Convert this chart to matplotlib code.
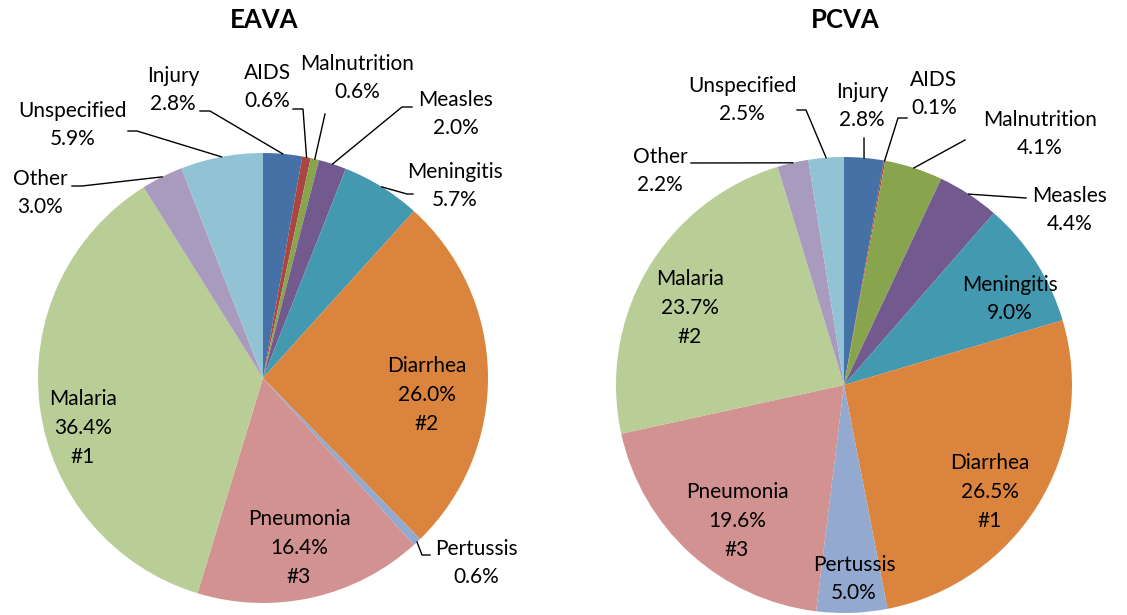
import numpy as np
import matplotlib
matplotlib.use('Agg')
import matplotlib.pyplot as plt

plt.rcParams['font.family'] = ['Lato', 'DejaVu Sans']

W, H = 1127, 615

# data (clockwise from 12 o'clock)
causes = ['Injury', 'AIDS', 'Malnutrition', 'Measles', 'Meningitis', 'Diarrhea',
          'Pertussis', 'Pneumonia', 'Malaria', 'Other', 'Unspecified']
eava = [2.8, 0.6, 0.6, 2.0, 5.7, 26.0, 0.6, 16.4, 36.4, 3.0, 5.9]
pcva = [2.8, 0.1, 4.1, 4.4, 9.0, 26.5, 5.0, 19.6, 23.7, 2.2, 2.5]
eava_rank = {'Malaria': '#1', 'Diarrhea': '#2', 'Pneumonia': '#3'}
pcva_rank = {'Diarrhea': '#1', 'Malaria': '#2', 'Pneumonia': '#3'}

colors = ['#4671a6', '#ab4542', '#88a54e', '#725a8f', '#4299b0', '#db843e',
          '#94a9cf', '#d29292', '#b9cd97', '#a99bbd', '#92c3d4']

# layout, in pixels from the top-left corner
# label: (x, y) of text block centre, leader waypoints after the wedge edge
eava_lay = dict(center=(263, 378), r=225, title=(264, 20), labels={
    'Injury': ((173, 90), [(210, 111), (200, 111)]),
    'AIDS': ((267, 87), [(303, 109), (293, 109)]),
    'Malnutrition': ((357, 78), [(325, 114)]),
    'Measles': ((456, 114), [(402, 107), (412, 107)]),
    'Meningitis': ((455, 186), [(407, 194), (413, 194)]),
    'Diarrhea': ((427, 395), None),
    'Pertussis': ((476, 563), [(422, 555), (430, 555)]),
    'Pneumonia': ((299, 548), None),
    'Malaria': ((83, 428), None),
    'Other': ((40, 193), [(82, 186), (72, 186)]),
    'Unspecified': ((73, 125), [(137, 131), (128, 131)]),
})
pcva_lay = dict(center=(844, 385), r=228, title=(845, 20), labels={
    'Injury': ((862, 106), [(864, 138)]),
    'AIDS': ((934, 94), [(898, 118), (907, 118)]),
    'Malnutrition': ((1040, 134), [(965, 140)]),
    'Measles': ((1070, 210), [(1026, 198)]),
    'Meningitis': ((1010, 299), None),
    'Diarrhea': ((990, 492), None),
    'Pertussis': ((854, 579), None),
    'Pneumonia': ((737, 521), None),
    'Malaria': ((690, 308), None),
    'Other': ((660, 171), [(691, 163)]),
    'Unspecified': ((742, 100), [(806, 110), (797, 110)]),
})

fig = plt.figure(figsize=(W / 100, H / 100), dpi=100)
ax = fig.add_axes([0, 0, 1, 1])


def draw(vals, ranks, lay, title):
    cx, cy = lay['center']
    wedges, _ = ax.pie(vals, colors=colors, startangle=90, counterclock=False,
                       center=(cx, H - cy), radius=lay['r'],
                       wedgeprops=dict(linewidth=0))
    tx, ty = lay['title']
    ax.text(tx, H - ty, title, ha='center', va='center', fontsize=18.5,
            fontweight='bold')
    for w, name, v in zip(wedges, causes, vals):
        (lx, ly), path = lay['labels'][name]
        s = '%s\n%.1f%%' % (name, v)
        if name in ranks:
            s += '\n' + ranks[name]
        ax.text(lx, H - ly, s, ha='center', va='center', fontsize=15,
                linespacing=1.55)
        if path:
            a = np.deg2rad((w.theta1 + w.theta2) / 2)
            x0 = w.center[0] + w.r * np.cos(a)
            y0 = w.center[1] + w.r * np.sin(a)
            xs = [x0] + [p[0] for p in path]
            ys = [y0] + [H - p[1] for p in path]
            ax.plot(xs, ys, color='black', lw=1)


draw(eava, eava_rank, eava_lay, 'EAVA')
draw(pcva, pcva_rank, pcva_lay, 'PCVA')

ax.set_xlim(0, W)
ax.set_ylim(0, H)
ax.set_aspect('equal')
ax.axis('off')

fig.savefig('out.png', dpi=100)
